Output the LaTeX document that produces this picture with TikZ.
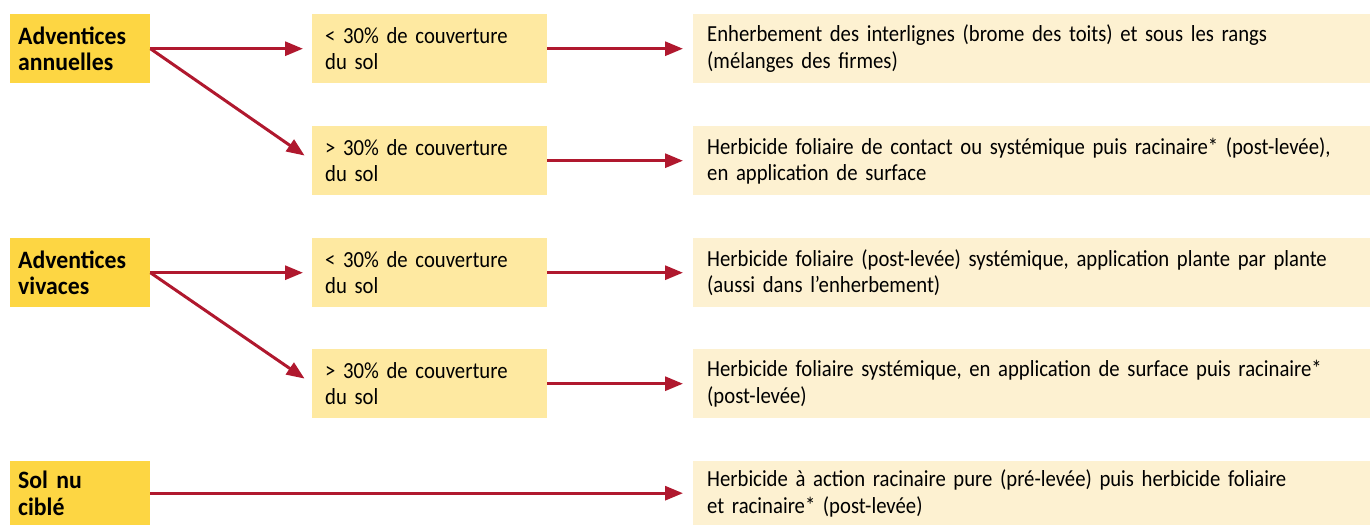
\documentclass[tikz,border=0pt]{standalone}
\usepackage{fontspec}
\setmainfont[FakeStretch=0.9]{Carlito}
\newfontfamily\boldlab[FakeStretch=0.95]{Carlito}
\usetikzlibrary{arrows.meta}
\definecolor{lgold}{HTML}{FDD643}
\definecolor{mgold}{HTML}{FEE9A1}
\definecolor{rcream}{HTML}{FDF1D1}
\definecolor{arrred}{HTML}{B0182E}
\tikzset{
  box/.style={rectangle, anchor=north west, inner ysep=0pt, minimum height=69pt, align=left,
    font=\fontsize{23}{26.5}\selectfont},
  lbox/.style={box, fill=lgold, inner xsep=8pt, text width=124pt, font=\fontsize{25}{26.5}\selectfont\boldlab\bfseries},
  mbox/.style={box, fill=mgold, inner xsep=13pt, text width=209pt},
  rbox/.style={box, fill=rcream, inner xsep=14pt, text width=649pt},
  arr/.style={draw=arrred, line width=3pt, -{Triangle[length=18pt,width=14pt]}, fill=arrred},
}
\begin{document}
\begin{tikzpicture}[x=1pt,y=-1pt]
\useasboundingbox (0,0) rectangle (1370,525);
% row A
\node[lbox] (la) at (10,14) {Adventices\\annuelles};
\node[mbox] (ma1) at (312,14) {< 30\% de couverture\\du sol};
\node[mbox] (ma2) at (312,126) {> 30\% de couverture\\du sol};
\node[rbox] (ra1) at (693,14) {Enherbement des interlignes (brome des toits) et sous les rangs\\(mélanges des firmes)};
\node[rbox] (ra2) at (693,126) {Herbicide foliaire de contact ou systémique puis racinaire* (post-levée),\\en application de surface};
% row B
\node[lbox] (lb) at (10,238) {Adventices\\vivaces};
\node[mbox] (mb1) at (312,238) {< 30\% de couverture\\du sol};
\node[mbox] (mb2) at (312,349) {> 30\% de couverture\\du sol};
\node[rbox] (rb1) at (693,238) {Herbicide foliaire (post-levée) systémique, application plante par plante\\(aussi dans l’enherbement)};
\node[rbox] (rb2) at (693,349) {Herbicide foliaire systémique, en application de surface puis racinaire*\\(post-levée)};
% row C
\node[lbox, minimum height=64pt] (lc) at (10,461) {Sol nu\\ciblé};
\node[rbox, minimum height=64pt] (rc) at (693,461) {Herbicide à action racinaire pure (pré-levée) puis herbicide foliaire\\et racinaire* (post-levée)};
% arrows
\draw[arr, shorten >=9pt] (la.east) -- (ma1.west);
\draw[arr, shorten >=9pt] (la.east) -- (ma2.west);
\draw[arr, shorten >=10pt] (ma1.east) -- (ra1.west);
\draw[arr, shorten >=10pt] (ma2.east) -- (ra2.west);
\draw[arr, shorten >=9pt] (lb.east) -- (mb1.west);
\draw[arr, shorten >=9pt] (lb.east) -- (mb2.west);
\draw[arr, shorten >=10pt] (mb1.east) -- (rb1.west);
\draw[arr, shorten >=10pt] (mb2.east) -- (rb2.west);
\draw[arr, shorten >=10pt] (lc.east) -- (rc.west);
\end{tikzpicture}
\end{document}
